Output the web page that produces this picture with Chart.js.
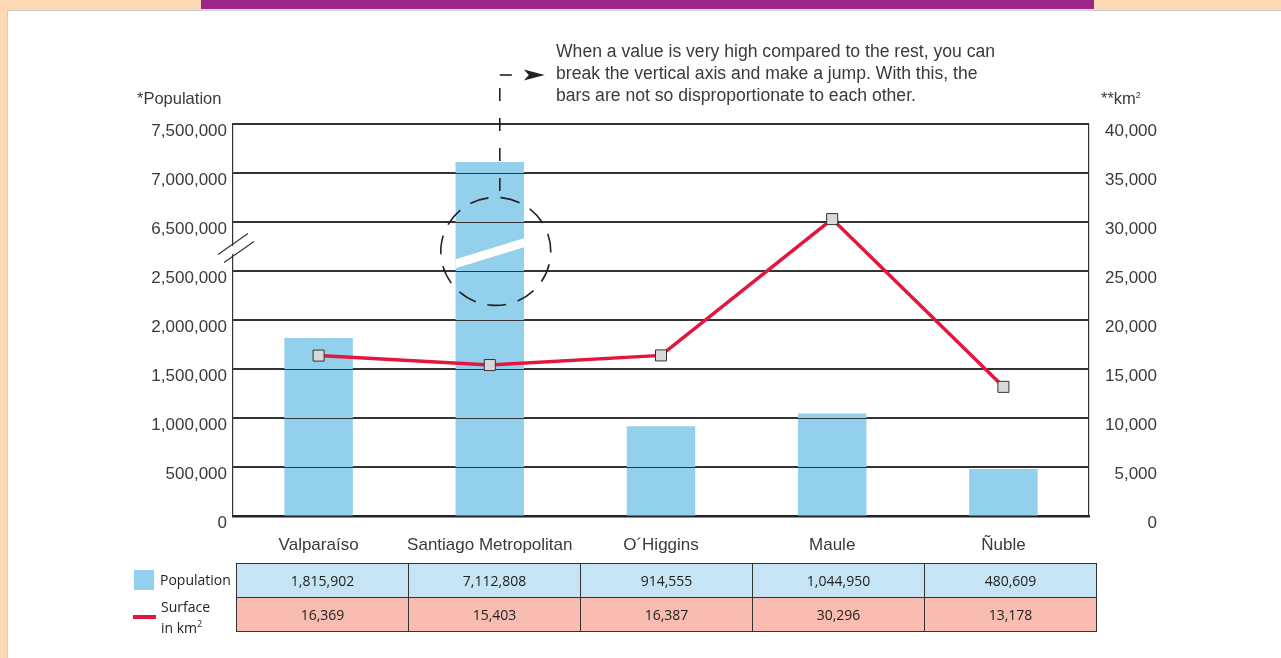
<!DOCTYPE html>
<html>
<head>
<meta charset="utf-8">
<script src="https://cdn.jsdelivr.net/npm/chart.js@4.4.1/dist/chart.umd.min.js"></script>
<style>
  html, body { margin: 0; padding: 0; }
  body { width: 1281px; height: 658px; position: relative; overflow: hidden; background: #fdd8b4; font-family: "Liberation Sans", Arial, sans-serif; color: #3a3a3a; }
  #hoja { position: absolute; left: 7px; top: 10px; width: 1290px; height: 660px; background: #fff; border-left: 1.5px solid #cfcfcf; border-top: 1.5px solid #cfcfcf; }
  #franja { position: absolute; left: 201px; top: 0; width: 893px; height: 9px; background: #9d2787; }
  canvas { position: absolute; left: 0; top: 0; }
  .txt { position: absolute; white-space: nowrap; }
  #nota { left: 556px; top: 40px; font-size: 17.6px; line-height: 22px; color: #3a3a3a; }
  #tabla { position: absolute; left: 236px; top: 563px; border-collapse: collapse; font-family: "Open Sans", sans-serif; font-size: 14px; color: #222; }
  #tabla td { width: 171px; height: 33px; padding: 0; text-align: center; border: 1.5px solid #333; }
  #tabla tr.pob td { background: #c5e4f4; }
  #tabla tr.sup td { background: #f8bcb0; }
  .leyenda { position: absolute; font-family: "Open Sans", sans-serif; font-size: 14px; color: #222; line-height: 17px; }
</style>
</head>
<body>
<div id="hoja"></div>
<div id="franja"></div>
<canvas id="grafico" width="1281" height="658"></canvas>

<div class="txt" style="left:137px; top:89px; font-size:16.5px;">*Population</div>
<div class="txt" style="left:1101px; top:89px; font-size:16.5px;">**km<sup style="font-size:9px;">2</sup></div>
<div class="txt" id="nota">When a value is very high compared to the rest, you can<br>break the vertical axis and make a jump. With this, the<br>bars are not so disproportionate to each other.</div>

<div style="position:absolute; left:134px; top:570px; width:20px; height:20px; background:#93d0ec;"></div>
<div class="leyenda" style="left:160px; top:571px;">Population</div>
<div style="position:absolute; left:133px; top:615px; width:23px; height:4px; background:#e3173e;"></div>
<div class="leyenda" style="left:161px; top:598px;">Surface<br>in km<sup style="font-size:9px;">2</sup></div>

<table id="tabla">
  <tr class="pob" id="filaPoblacion"></tr>
  <tr class="sup" id="filaSuperficie"></tr>
</table>

<script>
// Datos de las regiones
const regiones = ['Valparaíso', 'Santiago Metropolitan', 'O´Higgins', 'Maule', 'Ñuble'];
const poblacion = [1815902, 7112808, 914555, 1044950, 480609];
const superficie = [16369, 15403, 16387, 30296, 13178];

// Eje izquierdo cortado: 2.500.000 salta a 6.500.000
const corteInicio = 3000000;
const corteSalto = 3500000;

function aEscala(valor) {
    return valor >= corteInicio + corteSalto ? valor - corteSalto : Math.min(valor, corteInicio);
}

function formato(n) {
    return n.toLocaleString('en-US');
}

// Tabla de valores
document.getElementById('filaPoblacion').innerHTML = poblacion.map(v => '<td>' + formato(v) + '</td>').join('');
document.getElementById('filaSuperficie').innerHTML = superficie.map(v => '<td>' + formato(v) + '</td>').join('');

// Plugin para el corte del eje y las anotaciones
const pluginCorte = {
    id: 'corte',
    afterDatasetDraw(chart, args) {
        if (args.index !== 0) return;
        const ctx = chart.ctx;
        const y = chart.scales.y;
        const area = chart.chartArea;
        const barra = chart.getDatasetMeta(0).data[1];

        // franja blanca sobre la barra alta
        const yc = y.getPixelForValue(2680000);
        const izq = barra.x - barra.width / 2;
        const der = barra.x + barra.width / 2;
        ctx.save();
        ctx.fillStyle = '#fff';
        ctx.beginPath();
        ctx.moveTo(izq, yc + 6);
        ctx.lineTo(der, yc - 15);
        ctx.lineTo(der, yc - 6);
        ctx.lineTo(izq, yc + 15);
        ctx.closePath();
        ctx.fill();

        // lineas de la grilla por encima de las barras
        ctx.strokeStyle = '#333';
        ctx.lineWidth = 1.2;
        y.ticks.forEach(t => {
            const py = Math.round(y.getPixelForValue(t.value)) + 0.5;
            if (t.value === 0) return;
            ctx.beginPath();
            ctx.moveTo(area.left, py);
            ctx.lineTo(area.right, py);
            ctx.stroke();
        });
        ctx.restore();
    },
    afterDraw(chart) {
        const ctx = chart.ctx;
        const x = chart.scales.x;
        const y = chart.scales.y;
        const area = chart.chartArea;
        ctx.save();

        // marca de corte en el eje
        const yk = y.getPixelForValue(2730000);
        ctx.fillStyle = '#fff';
        ctx.beginPath();
        ctx.moveTo(area.left - 13, yk + 6);
        ctx.lineTo(area.left + 15, yk - 13);
        ctx.lineTo(area.left + 18, yk - 7);
        ctx.lineTo(area.left - 10, yk + 12);
        ctx.closePath();
        ctx.fill();
        ctx.strokeStyle = '#333';
        ctx.lineWidth = 1.2;
        ctx.beginPath();
        ctx.moveTo(area.left - 15, yk + 6);
        ctx.lineTo(area.left + 15, yk - 15);
        ctx.moveTo(area.left - 9, yk + 14);
        ctx.lineTo(area.left + 21, yk - 7);
        ctx.stroke();

        // circulo punteado
        const cx = x.getPixelForValue(1) + 6;
        const cy = y.getPixelForValue(2700000);
        ctx.strokeStyle = '#222';
        ctx.lineWidth = 1.6;
        ctx.setLineDash([19, 12]);
        ctx.beginPath();
        ctx.ellipse(cx, cy, 55, 54, 0, -Math.PI / 2 + 0.1, Math.PI * 1.5 + 0.1);
        ctx.stroke();

        // linea punteada vertical y flecha
        const lx = x.getPixelForValue(1) + 10;
        ctx.setLineDash([13, 17]);
        ctx.beginPath();
        ctx.moveTo(lx, 88);
        ctx.lineTo(lx, cy - 56);
        ctx.stroke();
        ctx.setLineDash([]);
        ctx.lineWidth = 1.6;
        ctx.beginPath();
        ctx.moveTo(lx, 75);
        ctx.lineTo(lx + 12, 75);
        ctx.stroke();
        ctx.fillStyle = '#222';
        ctx.beginPath();
        ctx.moveTo(lx + 24, 69.5);
        ctx.lineTo(lx + 45, 75);
        ctx.lineTo(lx + 24, 80.5);
        ctx.lineTo(lx + 29, 75);
        ctx.closePath();
        ctx.fill();
        ctx.restore();
    }
};

document.addEventListener('DOMContentLoaded', function () {
    const ctx = document.getElementById('grafico').getContext('2d');
    new Chart(ctx, {
        type: 'bar',
        data: {
            labels: regiones,
            datasets: [{
                label: 'Population',
                data: poblacion.map(aEscala),
                backgroundColor: '#93d0ec',
                barPercentage: 0.4,
                categoryPercentage: 1.0,
                yAxisID: 'y',
                order: 2
            }, {
                type: 'line',
                label: 'Surface in km²',
                data: superficie,
                borderColor: '#e3173e',
                borderWidth: 3.5,
                tension: 0,
                pointStyle: 'rect',
                pointRadius: 7.8,
                pointBackgroundColor: '#d9d9d9',
                pointBorderColor: '#333',
                pointBorderWidth: 1,
                yAxisID: 'y1',
                order: 1
            }]
        },
        options: {
            responsive: false,
            animation: false,
            layout: { padding: { top: 124, left: 0, right: 124, bottom: 97 } },
            plugins: {
                legend: { display: false },
                tooltip: { enabled: false }
            },
            scales: {
                x: {
                    grid: { display: false },
                    border: { display: true, color: '#222', width: 2.5 },
                    ticks: { color: '#3a3a3a', padding: 11, maxRotation: 0, font: { family: 'Liberation Sans', size: 17 } },
                    afterFit: s => { s.height = 45; }
                },
                y: {
                    position: 'left',
                    min: 0,
                    max: 4000000,
                    grid: { color: '#333', lineWidth: 1.2, drawTicks: false },
                    border: { display: true, color: '#333', width: 1.2 },
                    ticks: {
                        stepSize: 500000,
                        padding: 6,
                        labelOffset: 7,
                        color: '#3a3a3a',
                        font: { family: 'Liberation Sans', size: 17 },
                        callback: v => formato(v >= corteInicio ? v + corteSalto : v)
                    },
                    afterFit: s => { s.width = 233; }
                },
                y1: {
                    position: 'right',
                    min: 0,
                    max: 40000,
                    grid: { display: false, drawTicks: false },
                    border: { display: true, color: '#333', width: 1.2 },
                    ticks: {
                        stepSize: 5000,
                        crossAlign: 'far',
                        labelOffset: 7,
                        color: '#3a3a3a',
                        font: { family: 'Liberation Sans', size: 17 },
                        callback: v => formato(v)
                    },
                    afterFit: s => { s.width = 68; }
                }
            }
        },
        plugins: [pluginCorte]
    });
});
</script>
</body>
</html>
